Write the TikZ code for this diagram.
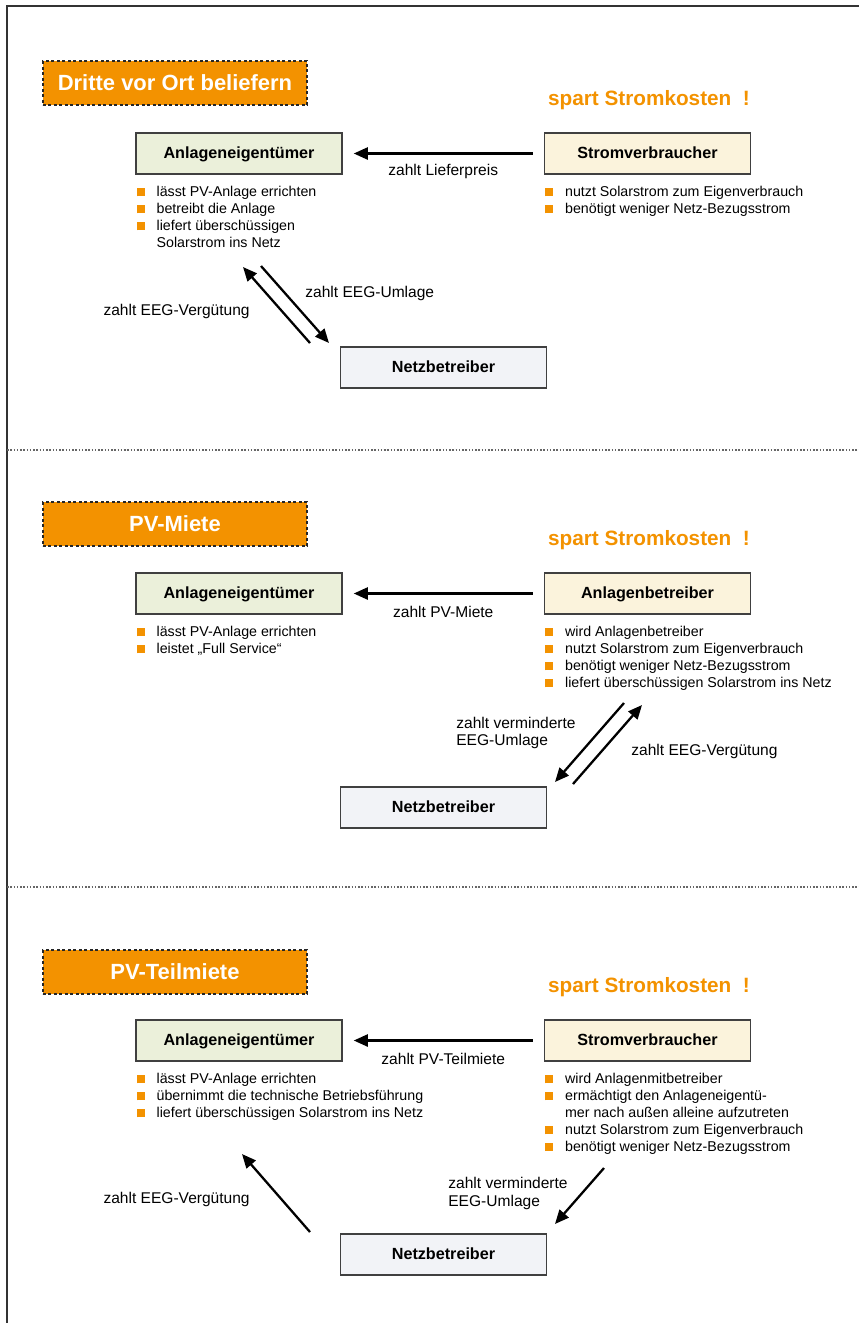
\documentclass[tikz,border=0pt]{standalone}
\usepackage{fontspec}
\setmainfont{Liberation Sans}
\usetikzlibrary{arrows.meta,positioning}
\definecolor{PVorange}{HTML}{F39200}
\definecolor{OwnerGreen}{HTML}{EBF0DA}
\definecolor{UserCream}{HTML}{FBF3DC}
\definecolor{GridGray}{HTML}{F2F3F7}
\newcommand{\bul}{\makebox[4mm][l]{\textcolor{PVorange}{\rule{1.6mm}{1.6mm}}}}
\newcommand{\ind}{\hspace*{4mm}}

\begin{document}
\begin{tikzpicture}[x=0.2mm,y=-0.2mm,
    titlebox/.style={fill=PVorange,draw=black!85,dash pattern=on 0.6mm off 0.5mm,line width=0.22mm,
                     minimum width=52.8mm,minimum height=8.8mm,text=white,
                     font=\fontsize{12.5}{15}\selectfont\bfseries},
    party/.style={draw=black!75,line width=0.3mm,minimum width=41.2mm,minimum height=8.2mm,
                  text height=2.4mm,text depth=0.5mm,
                  font=\fontsize{9.2}{11}\selectfont\bfseries},
    owner/.style={party,fill=OwnerGreen},
    user/.style={party,fill=UserCream},
    netbox/.style={party,fill=GridGray},
    slogan/.style={text=PVorange,font=\fontsize{11.8}{14}\selectfont\bfseries},
    blist/.style={anchor=north west,align=left,inner sep=0pt,font=\fontsize{8.1}{9.64}\selectfont},
    lbl/.style={inner sep=0pt,align=left,font=\fontsize{8.85}{10.2}\selectfont},
    arr/.style={-{Triangle[length=2.8mm,width=2.4mm]},line width=1.3pt},
    cutline/.style={black!60,line width=0.3mm,dash pattern=on 0.3mm off 0.35mm}]
    \useasboundingbox (0,0) rectangle (859,1323);
    \draw[line width=0.4mm,black!80] (7,1323) -- (7,6) -- (859,6);

    % Dritte vor Ort beliefern
    \node[titlebox] (title1) at (175,83) {Dritte vor Ort beliefern};
    \node[slogan] (save1) at (649,100) {spart Stromkosten~~!};
    \node[owner] (owner1) at (239,153.5) {Anlageneigentümer};
    \node[user] (user1) at (647.5,153.5) {Stromverbraucher};
    \node[netbox] (net1) at (443.5,367.5) {Netzbetreiber};
    \node[blist] (todo1) at ([xshift=0.2mm,yshift=-2.2mm]owner1.south west)
      {\bul lässt PV-Anlage errichten\\
       \bul betreibt die Anlage\\
       \bul liefert überschüssigen\\
       \ind Solarstrom ins Netz};
    \node[blist] (gain1) at ([xshift=0.2mm,yshift=-2.2mm]user1.south west)
      {\bul nutzt Solarstrom zum Eigenverbrauch\\
       \bul benötigt weniger Netz-Bezugsstrom};
    \draw[arr,shorten <=2.2mm,shorten >=2.2mm] (user1) -- node[lbl,yshift=-3.6mm] (fee1) {zahlt Lieferpreis} (owner1);
    \coordinate (payA1) at (310,343);
    \coordinate (payB1) at (243,267);
    \coordinate (levyA1) at (261,266);
    \coordinate (levyB1) at (329,343);
    \draw[arr] (payA1) -- (payB1);
    \draw[arr] (levyA1) -- (levyB1);
    \node[lbl,anchor=west] (levyl1) at (305,293) {zahlt EEG-Umlage};
    \node[lbl,anchor=east] (payl1) at (250,311) {zahlt EEG-Vergütung};
    \draw[cutline] (7,450) -- (859,450);

    % PV-Miete
    \begin{scope}[shift={(0,440)}]
    \node[titlebox] (title2) at (175,84) {PV-Miete};
    \node[slogan] (save2) at (649,100) {spart Stromkosten~~!};
    \node[owner] (owner2) at (239,153.5) {Anlageneigentümer};
    \node[user] (user2) at (647.5,153.5) {Anlagenbetreiber};
    \node[netbox] (net2) at (443.5,367.5) {Netzbetreiber};
    \node[blist] (todo2) at ([xshift=0.2mm,yshift=-2.2mm]owner2.south west)
      {\bul lässt PV-Anlage errichten\\
       \bul leistet „Full Service“};
    \node[blist] (gain2) at ([xshift=0.2mm,yshift=-2.2mm]user2.south west)
      {\bul wird Anlagenbetreiber\\
       \bul nutzt Solarstrom zum Eigenverbrauch\\
       \bul benötigt weniger Netz-Bezugsstrom\\
       \bul liefert überschüssigen Solarstrom ins Netz};
    \draw[arr,shorten <=2.2mm,shorten >=2.2mm] (user2) -- node[lbl,yshift=-3.6mm] (fee2) {zahlt PV-Miete} (owner2);
    \coordinate (levyA2) at (624,263);
    \coordinate (levyB2) at (555,342);
    \coordinate (payA2) at (573,344);
    \coordinate (payB2) at (642,265);
    \draw[arr] (levyA2) -- (levyB2);
    \draw[arr] (payA2) -- (payB2);
    \node[lbl,anchor=west] (levyl2) at (456,293) {zahlt verminderte\\EEG-Umlage};
    \node[lbl,anchor=west] (payl2) at (631,311) {zahlt EEG-Vergütung};
    \draw[cutline] (7,447) -- (859,447);
    \end{scope}

    % PV-Teilmiete
    \begin{scope}[shift={(0,887)}]
    \node[titlebox] (title3) at (175,85) {PV-Teilmiete};
    \node[slogan] (save3) at (649,100) {spart Stromkosten~~!};
    \node[owner] (owner3) at (239,153.5) {Anlageneigentümer};
    \node[user] (user3) at (647.5,153.5) {Stromverbraucher};
    \node[netbox] (net3) at (443.5,367.5) {Netzbetreiber};
    \node[blist] (todo3) at ([xshift=0.2mm,yshift=-2.2mm]owner3.south west)
      {\bul lässt PV-Anlage errichten\\
       \bul übernimmt die technische Betriebsführung\\
       \bul liefert überschüssigen Solarstrom ins Netz};
    \node[blist] (gain3) at ([xshift=0.2mm,yshift=-2.2mm]user3.south west)
      {\bul wird Anlagenmitbetreiber\\
       \bul ermächtigt den Anlageneigentü-\\
       \ind mer nach außen alleine aufzutreten\\
       \bul nutzt Solarstrom zum Eigenverbrauch\\
       \bul benötigt weniger Netz-Bezugsstrom};
    \draw[arr,shorten <=2.2mm,shorten >=2.2mm] (user3) -- node[lbl,yshift=-3.6mm] (fee3) {zahlt PV-Teilmiete} (owner3);
    \coordinate (levyA3) at (604,281);
    \coordinate (levyB3) at (555,337);
    \coordinate (payA3) at (310,345);
    \coordinate (payB3) at (242,267);
    \draw[arr] (levyA3) -- (levyB3);
    \draw[arr] (payA3) -- (payB3);
    \node[lbl,anchor=west] (levyl3) at (448,306) {zahlt verminderte\\EEG-Umlage};
    \node[lbl,anchor=east] (payl3) at (250,312) {zahlt EEG-Vergütung};
    \end{scope}
\end{tikzpicture}
\end{document}
